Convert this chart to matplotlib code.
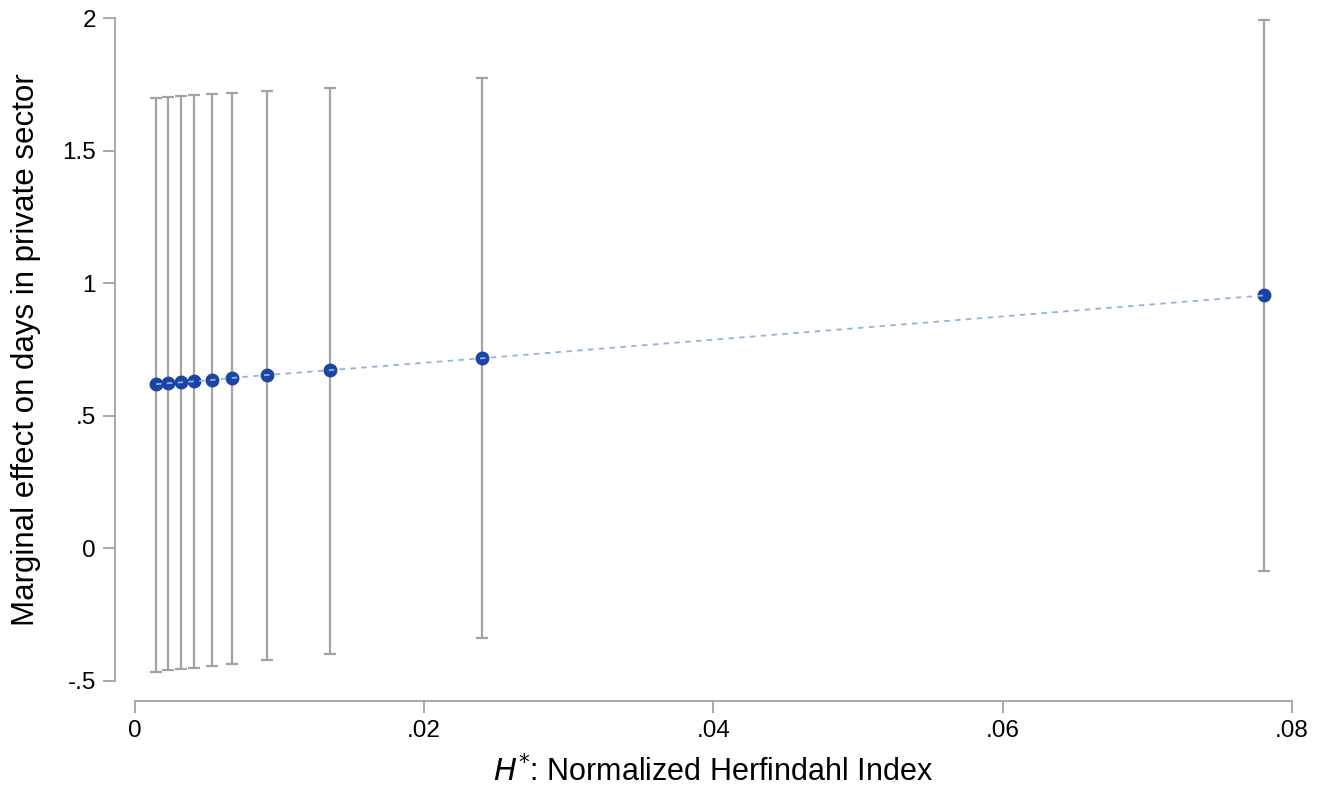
import numpy as np
import matplotlib
matplotlib.use('Agg')
import matplotlib.pyplot as plt

plt.rcParams['font.family'] = ['Liberation Sans', 'DejaVu Sans']

# normalized Herfindahl index (x) and marginal effect with CI
hstar = [0.001487, 0.002316, 0.003195, 0.004093, 0.005359, 0.006762,
         0.009183, 0.013497, 0.02401, 0.07805]
effect = [0.619, 0.623, 0.626, 0.630, 0.635, 0.643, 0.654, 0.672, 0.717, 0.954]
upper = [1.700, 1.703, 1.706, 1.710, 1.713, 1.717, 1.726, 1.737, 1.774, 1.992]
lower = [-0.465, -0.460, -0.455, -0.450, -0.442, -0.435, -0.421, -0.397, -0.339, -0.084]

xticks = [0, 0.02, 0.04, 0.06, 0.08]
xticklabels = ['0', '.02', '.04', '.06', '.08']
yticks = [-0.5, 0, 0.5, 1, 1.5, 2]
yticklabels = ['-.5', '0', '.5', '1', '1.5', '2']

gray = '#a3a3a3'

fig = plt.figure(figsize=(13.31, 7.91), dpi=100)
ax = fig.add_axes([0.1011, 0.1391, 0.8696, 0.8381])

x = np.array(hstar)
y = np.array(effect)
yerr = [y - np.array(lower), np.array(upper) - y]
ax.errorbar(x, y, yerr=yerr, fmt='none', ecolor=gray, elinewidth=1.6,
            capsize=4.5, capthick=1.6, zorder=1)
ax.plot(x, y, 'o', color='#1c44a4', markersize=9, zorder=2)
ax.plot(x, y, '--', color='#8fb3e0', linewidth=1.3, dashes=(3, 3), zorder=3)

ax.set_xlim(0, 0.08)
ax.set_ylim(-0.5, 2)
ax.set_xticks(xticks)
ax.set_xticklabels(xticklabels)
ax.set_yticks(yticks)
ax.set_yticklabels(yticklabels)

for s in ['top', 'right']:
    ax.spines[s].set_visible(False)
for s in ['left', 'bottom']:
    ax.spines[s].set_position(('outward', 14.4))
    ax.spines[s].set_color(gray)
    ax.spines[s].set_linewidth(1.3)
ax.tick_params(axis='both', colors=gray, labelcolor='black', length=8.5,
               width=1.3, labelsize=17.5, pad=5)

ax.set_xlabel(r'$\mathit{H}^{*}$: Normalized Herfindahl Index', fontsize=22, labelpad=10)
ax.set_ylabel('Marginal effect on days in private sector', fontsize=22.5, labelpad=15)

fig.savefig('out.png', dpi=100)
